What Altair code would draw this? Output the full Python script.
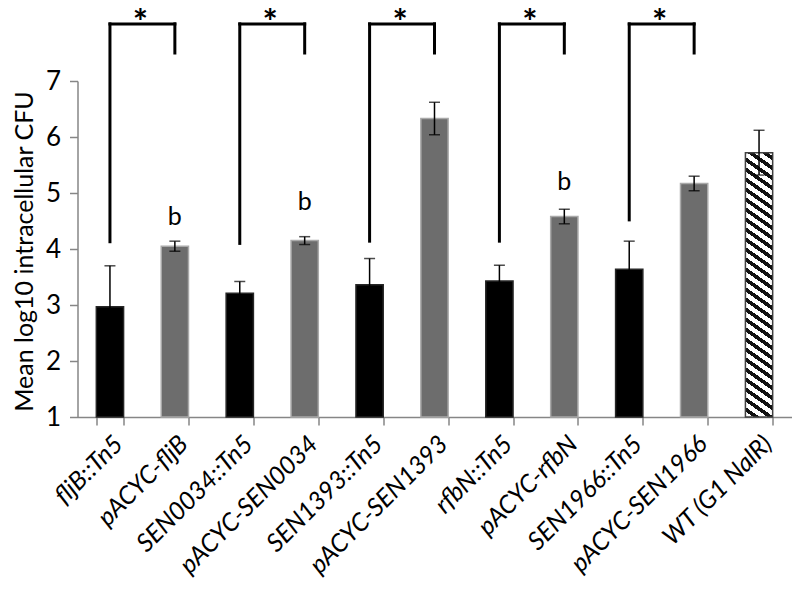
import altair as alt
import pandas as pd

categories = ["fljB::Tn5", "pACYC-fljB", "SEN0034::Tn5", "pACYC-SEN0034",
              "SEN1393::Tn5", "pACYC-SEN1393", "rfbN::Tn5", "pACYC-rfbN",
              "SEN1966::Tn5", "pACYC-SEN1966", "WT (G1 NalR)"]
kinds = ["mutant", "complement", "mutant", "complement", "mutant", "complement",
         "mutant", "complement", "mutant", "complement", "wt"]
means = [2.97, 4.05, 3.21, 4.15, 3.36, 6.33, 3.43, 4.58, 3.64, 5.17, 5.72]
errors = [0.73, 0.09, 0.21, 0.07, 0.47, 0.29, 0.28, 0.13, 0.50, 0.13, 0.40]

bracket_left = ["fljB::Tn5", "SEN0034::Tn5", "SEN1393::Tn5", "rfbN::Tn5", "SEN1966::Tn5"]
bracket_right = ["pACYC-fljB", "pACYC-SEN0034", "pACYC-SEN1393", "pACYC-rfbN", "pACYC-SEN1966"]
bracket_left_low = [4.13, 4.10, 4.14, 4.14, 4.52]
bracket_top = [8.02, 8.02, 8.02, 8.02, 8.02]
bracket_right_low = [7.5, 7.5, 7.5, 7.5, 7.5]

letter_cats = ["pACYC-fljB", "pACYC-SEN0034", "pACYC-rfbN"]
letter_pos = [4.43, 4.70, 5.05]
letter_text = ["b", "b", "b"]

W, H = 714, 336
FONT = "Lato"
AX = "#868686"

df = pd.DataFrame({"cat": categories, "kind": kinds, "mean": means, "err": errors})
df["lo"] = df["mean"] - df["err"]
df["hi"] = df["mean"] + df["err"]
df["base"] = 1.0

br = pd.DataFrame({"l": bracket_left, "r": bracket_right, "llo": bracket_left_low,
                   "top": bracket_top, "rlo": bracket_right_low})
lt = pd.DataFrame({"cat": letter_cats, "pos": letter_pos, "t": letter_text})

xscale = alt.Scale(domain=categories, paddingInner=0.58, paddingOuter=0.29)
yscale = alt.Scale(domain=[1, 7], nice=False, zero=False)

x_axis = alt.Axis(title=None, labelAngle=-45, labelAlign="right", labelBaseline="top",
                  labelFont=FONT, labelFontSize=25, labelFontStyle="italic",
                  labelColor="black", labelLimit=0, tickBand="extent", tickSize=8,
                  tickColor=AX, tickWidth=1.5, domainColor=AX, domainWidth=1.5,
                  labelPadding=6, grid=False)
y_axis = alt.Axis(title="Mean log10 intracellular CFU", values=[1, 2, 3, 4, 5, 6, 7],
                  format="d", grid=False, tickSize=8, tickColor=AX, tickWidth=1.5,
                  domainColor=AX, domainWidth=1.5, labelFont=FONT, labelFontSize=26,
                  labelColor="black", labelPadding=9, titleFont=FONT, titleFontSize=25,
                  titleFontWeight="normal", titleColor="black",
                  titleX=-45, titleY=H / 2 + 2, titleBaseline="alphabetic", titleAngle=270)

X = alt.X("cat:N", scale=xscale, axis=x_axis, sort=categories)
Xn = alt.X("cat:N", scale=xscale)


def yq(field):
    return alt.Y(field, scale=yscale)


bars = alt.Chart(df[df.kind != "wt"]).mark_bar(strokeWidth=1.5).encode(
    x=X,
    y=alt.Y("mean:Q", scale=yscale, axis=y_axis),
    y2="base:Q",
    fill=alt.Fill("kind:N", scale=alt.Scale(domain=["mutant", "complement"],
                                            range=["#000000", "#6d6d6d"]), legend=None),
    stroke=alt.Stroke("kind:N", scale=alt.Scale(domain=["mutant", "complement"],
                                                range=["#262626", "#a9a9a9"]), legend=None),
)

# hatched WT bar: striped linear gradient (style only)
wt_mean = means[-1]
h = (wt_mean - 1) / 6 * H
w = W / 11 * 0.42
m = 0.7
P = 10.0
L = m * w + h
s = L / (m * m * w * w + h * h)
stops = []
k = 0
while k * P / L < 1:
    a = k * P / L
    b = min(1.0, a + 0.55 * P / L)
    c = min(1.0, a + P / L)
    stops += [alt.GradientStop(offset=a, color="white"), alt.GradientStop(offset=b, color="white"),
              alt.GradientStop(offset=b, color="#111111"), alt.GradientStop(offset=c, color="#111111")]
    k += 1
grad = alt.LinearGradient(gradient="linear", stops=stops, x1=0, y1=1,
                          x2=s * m * w, y2=1 - s * h)

wt = alt.Chart(df[df.kind == "wt"]).mark_bar(fill=grad, stroke="#404040", strokeWidth=1.5).encode(
    x=Xn, y=yq("mean:Q"), y2="base:Q")

err_rule = alt.Chart(df).mark_rule(color="black", strokeWidth=1.5).encode(
    x=Xn, y=yq("lo:Q"), y2="hi:Q")
cap_hi = alt.Chart(df).mark_tick(color="black", thickness=1.5, size=11).encode(
    x=Xn, y=yq("hi:Q"))
cap_lo = alt.Chart(df).mark_tick(color="black", thickness=1.5, size=11).encode(
    x=Xn, y=yq("lo:Q"))

leg_l = alt.Chart(br).mark_rule(color="black", strokeWidth=3, strokeCap="square").encode(
    x=alt.X("l:N", scale=xscale), y=yq("llo:Q"), y2="top:Q")
leg_r = alt.Chart(br).mark_rule(color="black", strokeWidth=3, strokeCap="square").encode(
    x=alt.X("r:N", scale=xscale), y=yq("rlo:Q"), y2="top:Q")
top = alt.Chart(br).mark_rule(color="black", strokeWidth=3, strokeCap="square").encode(
    x=alt.X("l:N", scale=xscale), x2="r:N", y=yq("top:Q"))
stars = alt.Chart(br).mark_text(text="*", font=FONT, fontSize=36, fontWeight="bold",
                                dx=W / 11 / 2 - 2, dy=11, baseline="alphabetic", color="black").encode(
    x=alt.X("l:N", scale=xscale), y=yq("top:Q"))

letters = alt.Chart(lt).mark_text(font=FONT, fontSize=25, baseline="alphabetic", color="black").encode(
    x=Xn, y=yq("pos:Q"), text="t:N")

chart = alt.layer(bars, wt, err_rule, cap_hi, cap_lo, leg_l, leg_r, top, stars, letters).properties(
    width=W, height=H, background="white",
    autosize=alt.AutoSizeParams(type="none"),
    padding={"left": 69.5, "top": 73, "right": 0, "bottom": 168},
).configure_view(strokeWidth=0).configure_axis(grid=False)

chart.save("out.html", embed_options={"renderer": "svg", "actions": False})
